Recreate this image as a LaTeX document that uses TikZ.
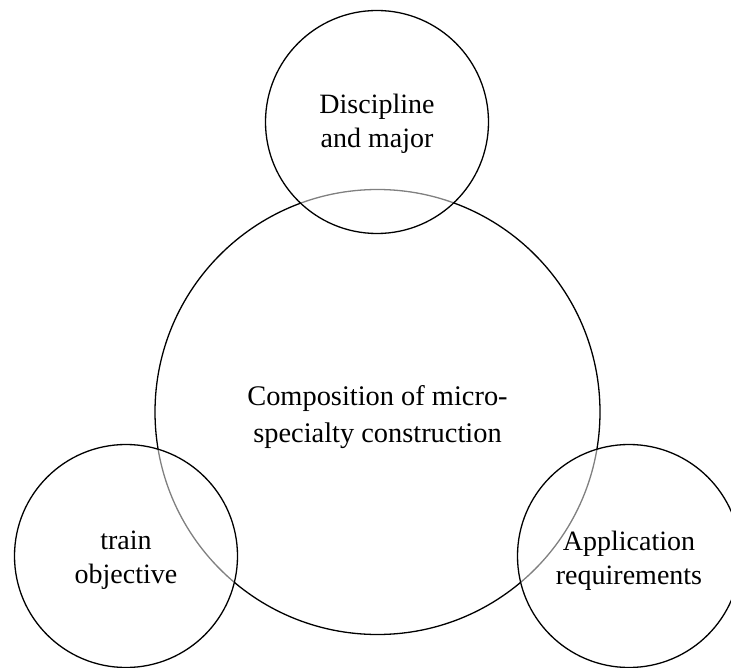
\documentclass[tikz,border=0pt]{standalone}
\usepackage{fontspec}
\setmainfont{Liberation Serif}
\usetikzlibrary{positioning}

\begin{document}
\begin{tikzpicture}[x=1pt, y=-1pt,
    ring/.style={circle, draw, line width=1.3pt, inner sep=0pt},
    bigring/.style={ring, minimum size=445pt},
    smallring/.style={ring, minimum size=223pt, fill=white, fill opacity=0.5, text opacity=1},
    txt/.style={align=center, inner sep=0pt, font=\fontsize{28}{34}\selectfont},
    bigtxt/.style={align=center, inner sep=0pt, font=\fontsize{28.4}{37}\selectfont}]
    \useasboundingbox (0,0) rectangle (731,668);

    % Main circle
    \node[bigring, label={[bigtxt, yshift=-5pt]center:{Composition of micro-\\specialty construction}}] (comp) at (377.5,412) {};

    % Outer circles
    \node[smallring, label={[txt, yshift=-1.5pt]center:{Discipline\\and major}}] (disc) at (377,122) {};
    \node[smallring, label={[txt, yshift=-4.5pt]center:{train\\objective}}] (train) at (126,556) {};
    \node[smallring, label={[txt, yshift=-4.5pt]center:{Application\\requirements}}] (app) at (629,556) {};
\end{tikzpicture}
\end{document}
